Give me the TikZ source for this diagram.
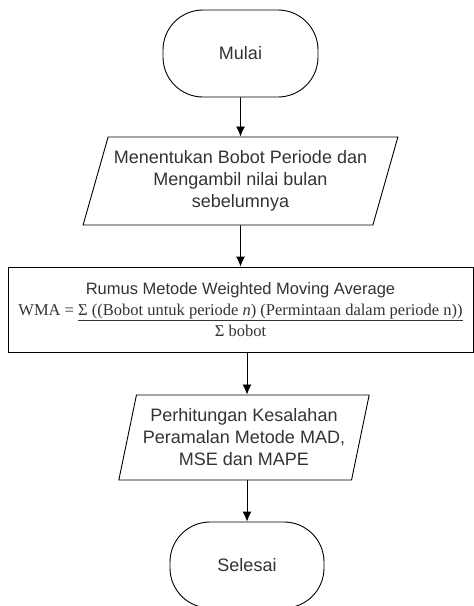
\documentclass[tikz,border=0pt]{standalone}
\usepackage{fontspec}
\setmainfont{Liberation Sans}
\newfontfamily\timesfont{Liberation Serif}
\usetikzlibrary{shapes.geometric,arrows.meta}
\definecolor{txtgray}{HTML}{333333}
\tikzset{
  terminal/.style={draw, line width=0.9pt, rectangle, rounded corners=40pt, minimum width=155pt, minimum height=87pt, text=txtgray, font=\fontsize{18}{22}\selectfont},
  dataio/.style={draw, line width=0.9pt, trapezium, trapezium stretches=true, align=center, text=txtgray, font=\fontsize{18}{22}\selectfont},
  process/.style={draw, line width=0.9pt, rectangle, align=center, minimum width=465pt, minimum height=85pt, text=txtgray, font=\fontsize{16.5}{21}\selectfont}
}
\begin{document}
\begin{tikzpicture}[x=1pt, y=-1pt]
  \useasboundingbox (0,0) rectangle (474,606);
  \node[terminal] (mulai) at (240.5,53.5) {Mulai};
  \node[dataio, trapezium left angle=70, trapezium right angle=110, minimum width=315pt, minimum height=88pt] (bobot) at (240.5,181) {Menentukan Bobot Periode dan\\Mengambil nilai bulan\\sebelumnya};
  \node[process] (rumus) at (240.5,309.5) {Rumus Metode Weighted Moving Average\\
    {\timesfont WMA = \underline{Σ ((Bobot untuk periode \textit{n}) (Permintaan dalam periode n))}}\\
    {\timesfont Σ bobot}};
  \node[dataio, trapezium left angle=75, trapezium right angle=105, minimum width=251pt, minimum height=85pt] (hitung) at (244,437.5) {Perhitungan Kesalahan\\Peramalan Metode MAD,\\MSE dan MAPE};
  \node[terminal, minimum width=154pt, minimum height=86pt] (selesai) at (247,565) {Selesai};

  \draw[->, >={Latex[length=10pt,width=9pt]}, line width=0.9pt] (mulai) edge (bobot);
  \draw[->, >={Latex[length=10pt,width=9pt]}, line width=0.9pt] (bobot) edge (rumus);
  \draw[->, >={Latex[length=10pt,width=9pt]}, line width=0.9pt] (selesai.north |- rumus.south) -- (selesai.north |- hitung.north);
  \draw[->, >={Latex[length=10pt,width=9pt]}, line width=0.9pt] (selesai.north |- hitung.south) -- (selesai);
\end{tikzpicture}
\end{document}
